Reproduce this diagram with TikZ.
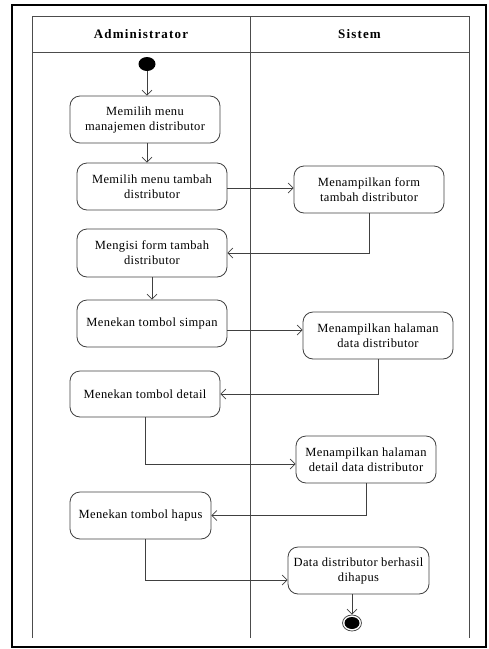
\documentclass[tikz,border=0pt]{standalone}
\usepackage{fontspec}
\setmainfont{Liberation Serif}
\newfontfamily\bodyf[LetterSpace=3]{Liberation Serif}
\newfontfamily\headf[LetterSpace=9]{Liberation Serif}
\usetikzlibrary{arrows.meta,calc,shapes.geometric}
\tikzset{
  act/.style={draw=black!75, line width=0.8pt, rounded corners=10pt, minimum width=150pt, minimum height=47pt, align=center, font=\bodyf\fontsize{12.5}{15}\selectfont, inner sep=2pt},
  arr/.style={draw=black!75, line width=0.7pt, -{Straight Barb[length=5pt,width=10pt]}},
  lane/.style={draw=black!70, line width=0.8pt},
  hdr/.style={font=\headf\bfseries\fontsize{13}{15}\selectfont}
}
\begin{document}
\begin{tikzpicture}[x=1pt,y=-1pt]
\useasboundingbox (0,0) rectangle (489,649);
\draw[black, line width=1.3pt] (12,5) rectangle (486,647);
\draw[lane] (32,638) -- (32,16) -- (469,16) -- (469,638);
\draw[lane] (32,52) -- (469,52);
\draw[lane] (250,16) -- (250,638);
\node[hdr] (hA) at (141,34) {Administrator};
\node[hdr] (hS) at (359.5,34) {Sistem};
\node[fill=black, ellipse, minimum width=17pt, minimum height=14pt, inner sep=0pt] (start) at (147,64) {};
\node[act] (b1) at (145,119.5) {Memilih menu\\manajemen distributor};
\node[act] (b2) at (152,186.5) {Memilih menu tambah\\distributor};
\node[act] (b3) at (369,189.5) {Menampilkan form\\tambah distributor};
\node[act, minimum height=48pt] (b4) at (152,253) {Mengisi form tambah\\distributor};
\node[act] (b5) at (152,323.5) {Menekan tombol simpan};
\node[act] (b6) at (378,335.5) {Menampilkan halaman\\data distributor};
\node[act, minimum height=46pt] (b7) at (145,394) {Menekan tombol detail};
\node[act, minimum width=140pt] (b8) at (366,459.5) {Menampilkan halaman\\detail data distributor};
\node[act, minimum width=141pt] (b9) at (140.5,515.5) {Menekan tombol hapus};
\node[act, minimum width=141pt] (b10) at (358.5,570.5) {Data distributor berhasil\\dihapus};
\node[draw=black!70, line width=0.8pt, fill=white, ellipse, minimum width=19pt, minimum height=16pt, inner sep=0pt] (end) at (352,623) {};
\node[fill=black, ellipse, minimum width=15pt, minimum height=12pt, inner sep=0pt] (endin) at (end.center) {};
\draw[arr] (start) -- (start |- b1.north);
\draw[arr] (b1.south -| start) -- (b2.north -| start);
\draw[arr] ([yshift=-1.5pt]b2.east) -- ([yshift=-1.5pt]b2.east -| b3.west);
\draw[arr] (b3.south) |- (b4.east);
\draw[arr] (b4.south) -- (b5.north);
\draw[arr] ([yshift=-6.5pt]b5.east) -- ([yshift=-6.5pt]b5.east -| b6.west);
\draw[arr] (b6.south) |- (b7.east);
\draw[arr] (b7.south) |- ([yshift=-4.5pt]b8.west);
\draw[arr] (b8.south) |- (b9.east);
\draw[arr] ([xshift=4.5pt]b9.south) |- ([yshift=-9.5pt]b10.west);
\draw[arr] (end |- b10.south) -- (end.north);
\end{tikzpicture}
\end{document}
